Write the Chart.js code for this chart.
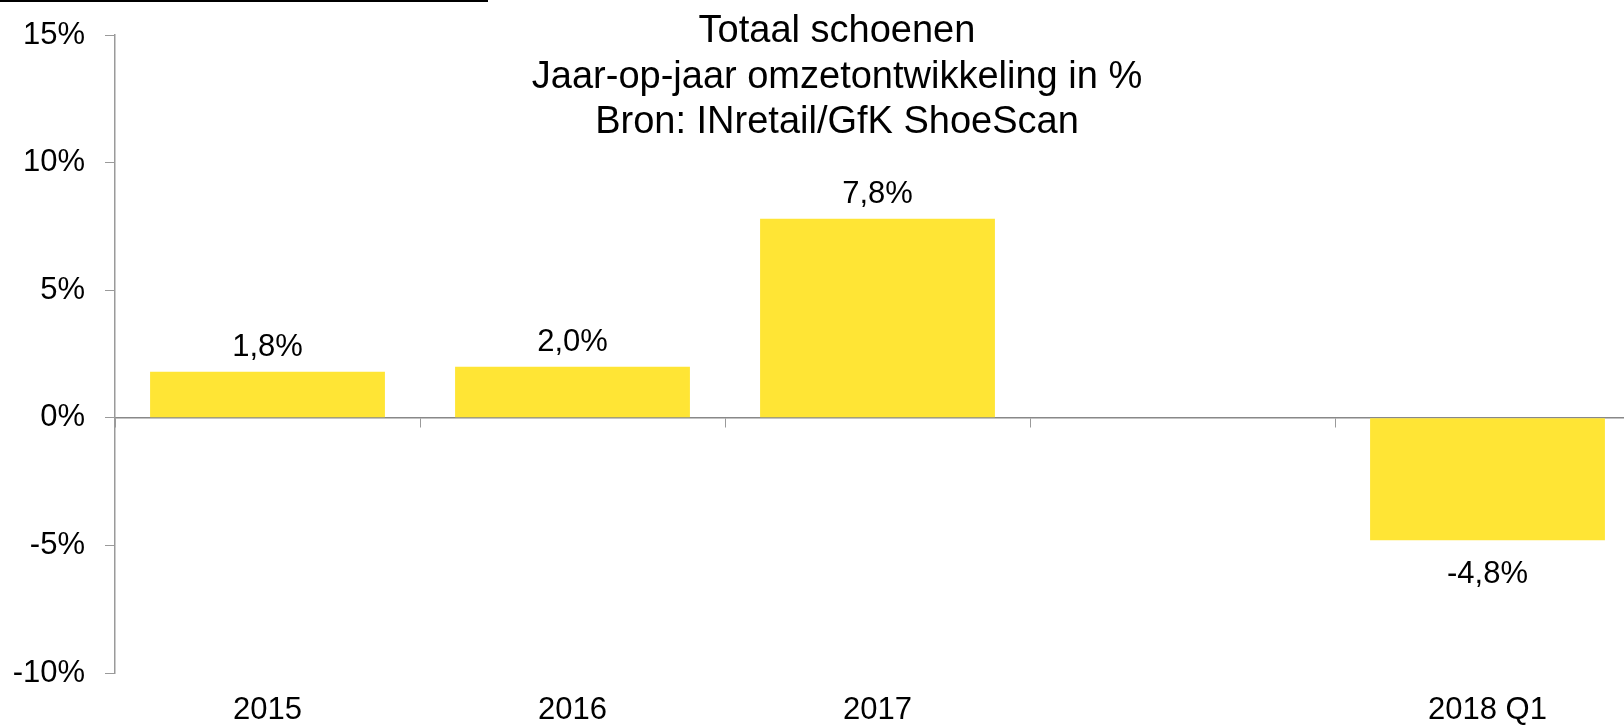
<!DOCTYPE html>
<html>
<head>
<meta charset="utf-8">
<script src="https://cdn.jsdelivr.net/npm/chart.js@4"></script>
<style>
  html, body { margin: 0; padding: 0; background: #fff; overflow: hidden; }
  #wrap { position: relative; width: 1624px; height: 725px; overflow: hidden; }
  #topline { position: absolute; left: 0; top: 0; width: 488px; height: 2px; background: #000; }
  canvas { position: absolute; left: 0; top: 0; }
</style>
</head>
<body>
<div id="wrap">
  <canvas id="c" width="1650" height="725"></canvas>
  <div id="topline"></div>
</div>
<script>
(function () {
  "use strict";

  const categories = ["2015", "2016", "2017", "", "2018 Q1"];
  const growth = [1.8, 2.0, 7.8, null, -4.8];
  const yTicks = [-10, -5, 0, 5, 10, 15];
  const titleLines = ["Totaal schoenen", "Jaar-op-jaar omzetontwikkeling in %", "Bron: INretail/GfK ShoeScan"];

  const YELLOW = "#FFE535", AXIS = "#9a9a9a", ZERO = "#888";
  const FONT = "'Liberation Sans', Arial, sans-serif";
  Chart.defaults.font.family = FONT;
  Chart.defaults.color = "#000";

  const fmt = v => v.toFixed(1).replace(".", ",") + "%";
  const noPad = s => { s.paddingLeft = s.paddingRight = s.paddingTop = s.paddingBottom = 0; };

  // title drawn over the plot, like the original
  const titlePlugin = {
    id: "titleLines",
    afterDraw(chart) {
      const ctx = chart.ctx;
      ctx.save();
      ctx.font = "38px " + FONT;
      ctx.fillStyle = "#000";
      ctx.textAlign = "center";
      ctx.textBaseline = "alphabetic";
      titleLines.forEach((t, i) => ctx.fillText(t, 837, 42 + i * 45.5));
      ctx.restore();
    }
  };

  const valueLabels = {
    id: "valueLabels",
    afterDatasetsDraw(chart) {
      const ctx = chart.ctx;
      const meta = chart.getDatasetMeta(0);
      ctx.save();
      ctx.font = "31px " + FONT;
      ctx.fillStyle = "#000";
      ctx.textAlign = "center";
      ctx.textBaseline = "alphabetic";
      meta.data.forEach((el, i) => {
        const v = growth[i];
        if (v === null || v === undefined) return;
        const y = v >= 0 ? el.y - 16 : el.y + 43;
        ctx.fillText(fmt(v), el.x, y);
      });
      ctx.restore();
    }
  };

  new Chart(document.getElementById("c"), {
    type: "bar",
    data: {
      labels: categories,
      datasets: [{
        data: growth,
        backgroundColor: YELLOW,
        borderWidth: 0,
        barPercentage: 0.77,
        categoryPercentage: 1
      }]
    },
    options: {
      responsive: false,
      animation: false,
      layout: { padding: { left: 13, right: 10, top: 35, bottom: 0 } },
      plugins: { legend: { display: false }, tooltip: { enabled: false }, title: { display: false } },
      scales: {
        x: {
          type: "category",
          offset: true,
          grid: { display: false, drawTicks: false },
          border: { display: false },
          ticks: { font: { size: 31, lineHeight: 1 }, padding: 22, color: "#000", maxRotation: 0, autoSkip: false },
          afterFit: s => { s.height = 52; noPad(s); }
        },
        x0: {
          type: "category",
          axis: "x",
          position: { y: 0 },
          offset: true,
          grid: { offset: true, drawOnChartArea: false, drawTicks: true, tickLength: 9, color: AXIS },
          border: { color: ZERO, width: 1.5 },
          ticks: { display: false },
          afterFit: noPad
        },
        y: {
          min: yTicks[0],
          max: yTicks[yTicks.length - 1],
          afterBuildTicks: s => { s.ticks = yTicks.map(v => ({ value: v })); },
          grid: { drawOnChartArea: false, drawTicks: true, tickLength: 10, color: AXIS },
          border: { color: AXIS, width: 1.5 },
          ticks: { font: { size: 31 }, padding: 20, color: "#000", callback: v => v + "%" },
          afterFit: s => { s.width = 102; noPad(s); }
        }
      }
    },
    plugins: [titlePlugin, valueLabels]
  });
})();
</script>
</body>
</html>
